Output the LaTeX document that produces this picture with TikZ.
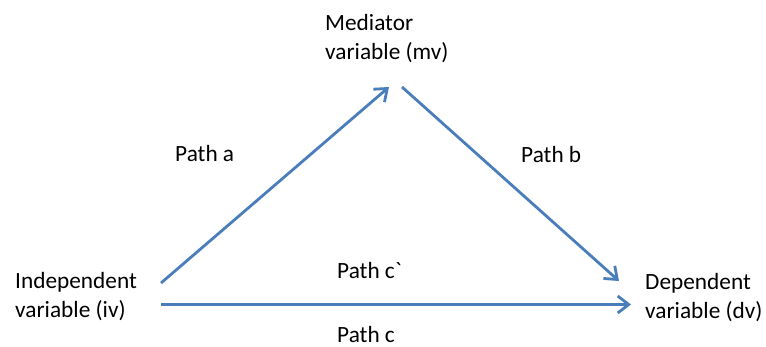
\documentclass[tikz,border=0pt]{standalone}
\usepackage{fontspec}
\setmainfont{Carlito}
\usetikzlibrary{arrows.meta}
\definecolor{pathblue}{RGB}{74,126,187}
\begin{document}
\begin{tikzpicture}[x=1pt,y=-1pt,
  lbl/.style={font=\fontsize{23.3}{29}\selectfont, inner sep=0pt, anchor=base west, align=left},
  conn/.style={draw=pathblue, line width=2.8pt, -{Straight Barb[length=11pt,width=17pt]}}]
\useasboundingbox (0,0) rectangle (766,346);
\node[lbl] (iv) at (15,317) {Independent\\variable (iv)};
\node[lbl] (mv) at (325,59) {Mediator\\variable (mv)};
\node[lbl] (dv) at (645,318) {Dependent\\variable (dv)};
\node[lbl] (pa) at (175,161) {Path a};
\node[lbl] (pb) at (521,162) {Path b};
\node[lbl] (pcp) at (337,278) {Path c\textasciigrave};
\node[lbl] (pc) at (337,342) {Path c};
\coordinate (ivA) at (161,283);
\coordinate (ivC) at (161,304.5);
\coordinate (mvIn) at (389,87);
\coordinate (mvOut) at (402,87);
\coordinate (dvB) at (619,281);
\coordinate (dvC) at (631,304.5);
\draw[conn] (ivA) -- (mvIn);
\draw[conn] (mvOut) -- (dvB);
\draw[conn] (ivC) -- (dvC);
\end{tikzpicture}
\end{document}
